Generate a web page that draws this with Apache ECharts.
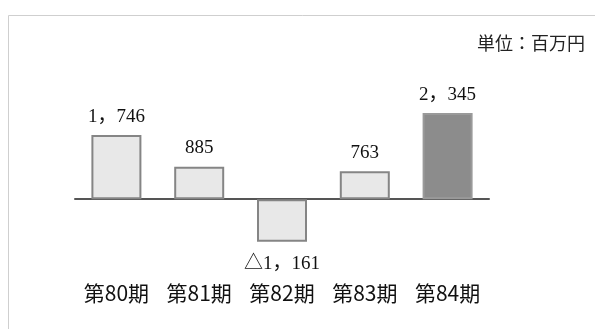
<!DOCTYPE html>
<html>
<head>
<meta charset="utf-8">
<script src="https://cdn.jsdelivr.net/npm/echarts@6/dist/echarts.min.js"></script>
<style>
  html, body { margin: 0; padding: 0; background: #fff; }
  #chart { width: 595px; height: 329px; }
</style>
</head>
<body>
<div id="chart"></div>
<script>
// 期別の当期純損益（単位：百万円）
const periods = ['第80期', '第81期', '第82期', '第83期', '第84期'];
const profits = [1746, 885, -1161, 763, 2345];
const unitText = '単位：百万円';

const serifFont = '"Liberation Serif", "Noto Sans CJK JP", serif';
const sansFont = '"Noto Sans CJK JP", sans-serif';

// 桁区切りは全角カンマ、マイナスは △ で表記
function formatValue(v) {
  const s = Math.abs(v).toString().replace(/\B(?=(\d{3})+(?!\d))/g, '，');
  return (v < 0 ? '△' : '') + s;
}

const data = profits.map((v, i) => {
  const latest = i === profits.length - 1;
  return {
    value: v,
    itemStyle: {
      color: latest ? '#8c8c8c' : '#e8e8e8',
      borderColor: latest ? '#9a9a9a' : '#858585',
      borderWidth: 2
    },
    label: v < 0 ? { position: 'bottom', distance: 13 } : { position: 'top', distance: 9 }
  };
});

const chart = echarts.init(document.getElementById('chart'));
chart.setOption({
  animation: false,
  graphic: [
    {
      type: 'rect',
      shape: { x: 8.5, y: 15.5, width: 620, height: 340 },
      style: { fill: 'none', stroke: '#cfcfcf', lineWidth: 1 },
      silent: true
    },
    {
      type: 'text',
      right: 10,
      top: 34,
      style: { text: unitText, font: '18px ' + sansFont, fill: '#222' }
    }
  ],
  grid: { left: 75, right: 106, top: 89, bottom: 49, outerBoundsMode: 'none' },
  xAxis: [
    {
      // ゼロ位置の基準線
      type: 'category',
      data: periods,
      position: 'top',
      axisLine: { onZero: true, lineStyle: { color: '#555', width: 2 } },
      axisTick: { show: false },
      axisLabel: { show: false }
    },
    {
      // 期のラベル（グリッド下端）
      type: 'category',
      data: periods,
      position: 'bottom',
      axisLine: { show: false, onZero: false },
      axisTick: { show: false },
      axisLabel: {
        interval: 0,
        margin: 3,
        fontSize: 21,
        fontFamily: sansFont,
        color: '#111'
      }
    }
  ],
  yAxis: {
    type: 'value',
    min: -2200,
    max: 3000,
    show: false,
    splitLine: { show: false }
  },
  series: [{
    type: 'bar',
    xAxisIndex: 0,
    barWidth: 50,
    data: data,
    label: {
      show: true,
      fontSize: 19,
      fontFamily: serifFont,
      color: '#111',
      formatter: p => formatValue(p.value)
    }
  }]
});
</script>
</body>
</html>
